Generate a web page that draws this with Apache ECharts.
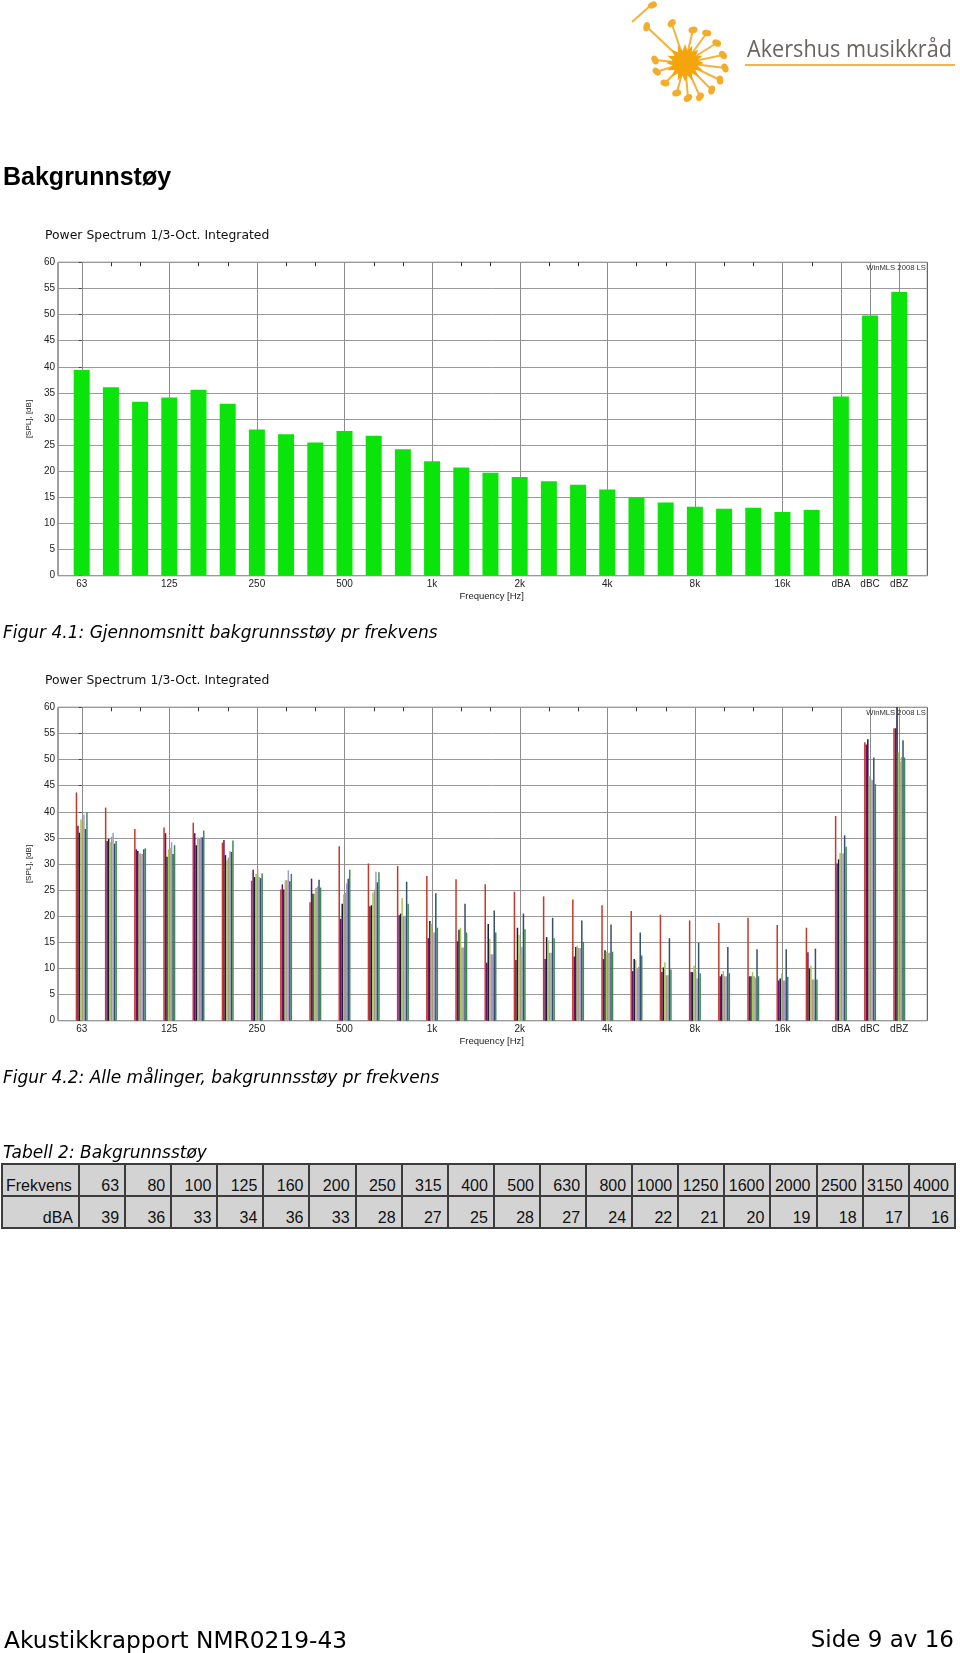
<!DOCTYPE html>
<html>
<head>
<meta charset="utf-8">
<script src="https://cdn.jsdelivr.net/npm/echarts@6/dist/echarts.min.js"></script>
<style>
html,body{margin:0;padding:0;background:#fff;}
body{width:960px;height:1653px;position:relative;overflow:hidden;}
#chart{position:absolute;left:0;top:0;width:960px;height:1653px;}
.t{position:absolute;white-space:nowrap;line-height:1;color:#000;z-index:2;}
#heading{left:3px;top:162px;font:bold 25px 'Liberation Sans',Arial,sans-serif;}
.cap{font:oblique 17px 'DejaVu Sans',Verdana,sans-serif;left:3px;}
#cap1{top:622px;}
#cap2{top:1067px;}
#tcap{top:1142px;}
#foot1{left:4px;top:1626px;font:23.3px 'DejaVu Sans',Verdana,sans-serif;}
#foot2{right:6px;top:1626px;font:23px 'DejaVu Sans',Verdana,sans-serif;}
#tbl{position:absolute;left:1px;top:1163px;border-collapse:collapse;table-layout:fixed;font:16px 'Liberation Sans',Arial,sans-serif;background:#d3d3d3;z-index:1;}
#tbl td{border:2px solid #3c3c3c;padding:0 5px 1px 3px;text-align:right;vertical-align:bottom;height:29px;line-height:16px;color:#111;overflow:hidden;white-space:nowrap;}
#tbl td.first{text-align:left;}
#tbl tr.r2 td.first{text-align:right;}
#logo{position:absolute;left:0;top:0;z-index:2;}
</style>
</head>
<body>
<div id="chart"></div>

<svg id="logo" width="960" height="110" viewBox="0 0 960 110">
  <g stroke="#f4b23a" stroke-width="2" fill="none" id="rays"></g>
  <g fill="#f4ad2a" id="heads"></g>
  <polygon id="core" fill="#f6a40c"></polygon>
  <text x="747" y="57" font-family="'Open Sans','DejaVu Sans',sans-serif" font-size="24" fill="#6a6461" textLength="205" lengthAdjust="spacingAndGlyphs">Akershus musikkråd</text>
  <line x1="745" y1="65" x2="955" y2="65" stroke="#f0b843" stroke-width="2"/>
</svg>

<div id="heading" class="t">Bakgrunnstøy</div>
<div id="cap1" class="t cap">Figur 4.1: Gjennomsnitt bakgrunnsstøy pr frekvens</div>
<div id="cap2" class="t cap">Figur 4.2: Alle målinger, bakgrunnsstøy pr frekvens</div>
<table id="tbl"><colgroup id="cols"></colgroup><tr id="row1"></tr><tr id="row2" class="r2"></tr></table>
<div id="tcap" class="t cap">Tabell 2: Bakgrunnsstøy</div>
<div id="foot1" class="t">Akustikkrapport NMR0219-43</div>
<div id="foot2" class="t">Side 9 av 16</div>

<script>
// ---------------- data ----------------
const categories = ['63','80','100','125','160','200','250','315','400','500','630','800','1k','1.25k','1.6k','2k','2.5k','3.15k','4k','5k','6.3k','8k','10k','12.5k','16k','20k','dBA','dBC','dBZ'];
const axisLabels = ['63','','','125','','','250','','','500','','','1k','','','2k','','','4k','','','8k','','','16k','','dBA','dBC','dBZ'];
const gridLineIdx = [0,3,6,9,12,15,18,21,24,26,27,28];
const yTicks = [0,5,10,15,20,25,30,35,40,45,50,55,60];

const average = [39.4,36.1,33.3,34.1,35.6,32.9,28.0,27.1,25.5,27.7,26.8,24.2,21.9,20.7,19.7,18.9,18.1,17.4,16.5,15.0,14.0,13.2,12.8,13.0,12.2,12.6,34.3,49.8,54.3];

const run1 = [43.7,40.8,36.7,37.0,37.9,34.1,26.8,25.1,22.7,33.4,30.1,29.6,27.7,27.1,26.1,24.7,23.8,23.2,22.1,21.0,20.3,19.2,18.7,19.7,18.3,17.8,39.2,53.3,56.0];
const run2 = [37.3,34.4,32.8,35.9,35.9,34.6,28.9,26.1,27.2,19.5,21.9,20.2,15.8,15.2,11.1,11.6,11.8,12.3,11.8,9.5,9.3,9.3,8.5,8.5,7.7,13.1,30.1,52.9,56.0];
const run3 = [36.0,34.8,32.5,31.4,33.6,31.7,27.5,25.1,24.3,22.4,22.1,20.5,19.1,17.4,18.5,17.8,16.0,14.1,13.5,11.8,10.2,9.3,8.9,8.5,8.1,10.0,30.9,53.9,61.0];
const run4 = [38.5,34.2,32.0,32.8,35.1,30.7,28.1,26.9,24.3,24.2,24.5,23.5,18.6,17.8,15.7,16.4,15.4,14.4,13.2,11.6,11.2,10.5,9.5,9.3,9.0,10.5,32.1,46.8,51.4];
const run5 = [38.5,35.2,32.0,33.1,34.8,31.2,29.0,26.9,25.4,24.5,25.1,19.9,16.9,14.0,12.7,12.7,13.0,13.9,13.0,10.1,8.7,9.5,8.5,8.5,7.7,7.9,32.0,46.2,49.6];
const run6 = [39.5,36.0,31.9,34.2,35.1,32.5,27.5,28.8,25.7,26.3,28.5,20.1,16.9,14.0,12.7,14.1,13.0,13.9,13.0,10.3,8.7,8.1,8.5,8.2,7.7,7.9,32.0,46.1,50.5];
const run7 = [36.7,33.9,32.8,31.9,35.1,32.3,27.3,26.7,27.0,27.2,26.5,26.6,24.4,22.4,21.1,20.5,19.7,19.2,18.4,16.9,15.8,14.9,14.1,13.7,13.7,13.8,35.5,50.4,53.7];
const run8 = [39.9,34.4,33.0,33.6,36.4,34.5,28.2,28.1,25.5,28.9,28.4,22.4,17.8,16.9,16.9,17.5,15.8,15.1,13.2,12.5,9.8,9.1,9.1,8.5,8.4,7.9,33.3,45.3,50.4];
const runs = [run1,run2,run3,run4,run5,run6,run7,run8];
const runColors = ['#c8382a','#6c106c','#1c1a3a','#9ccc50','#a89878','#a898d0','#34506c','#3c8c50'];

const tableFreq = [63,80,100,125,160,200,250,315,400,500,630,800,1000,1250,1600,2000,2500,3150,4000];
const tableDBA = [39,36,33,34,36,33,28,27,25,28,27,24,22,21,20,19,18,17,16];

// ---------------- table ----------------
(function(){
  const cols = document.getElementById('cols');
  let h = '<col style="width:77px">';
  tableFreq.forEach(()=>{ h += '<col style="width:46.1px">'; });
  cols.innerHTML = h;
  let r1 = '<td class="first">Frekvens</td>';
  tableFreq.forEach(v=>{ r1 += '<td>'+v+'</td>'; });
  document.getElementById('row1').innerHTML = r1;
  let r2 = '<td class="first">dBA</td>';
  tableDBA.forEach(v=>{ r2 += '<td>'+v+'</td>'; });
  document.getElementById('row2').innerHTML = r2;
})();

// ---------------- logo ----------------
(function(){
  const cx = 685, cy = 63;
  const heads = [[646.7,26.7],[671.7,23.3],[693,30],[706.7,33],[716.7,43],[723,55],[725,68],[720,80],[711.7,90],[700,96.7],[688,98],[676.7,93],[665,83],[656.7,71.7],[655,60]];
  let rays = '', hd = '';
  heads.forEach(p=>{
    rays += '<line x1="'+cx+'" y1="'+cy+'" x2="'+p[0]+'" y2="'+p[1]+'"/>';
    const ang = Math.atan2(p[1]-cy,p[0]-cx)*180/Math.PI;
    hd += '<ellipse cx="'+p[0]+'" cy="'+p[1]+'" rx="4.6" ry="3.3" transform="rotate('+(ang+60)+' '+p[0]+' '+p[1]+')"/>';
  });
  rays += '<line x1="632" y1="22" x2="650" y2="6"/>';
  hd += '<ellipse cx="652.5" cy="5" rx="4.6" ry="3.3" transform="rotate(-20 652.5 5)"/>';
  document.getElementById('rays').innerHTML = rays;
  document.getElementById('heads').innerHTML = hd;
  let pts = [];
  for (let k=0;k<32;k++){
    const r = (k%2===0)?19:12.5;
    const a = k*Math.PI/16;
    pts.push((cx+r*Math.cos(a)).toFixed(1)+','+(cy+r*Math.sin(a)).toFixed(1));
  }
  document.getElementById('core').setAttribute('points', pts.join(' '));
})();

// ---------------- charts ----------------
const chart = echarts.init(document.getElementById('chart'), null, {renderer:'canvas'});
const FONT = "'Liberation Sans', Arial, sans-serif";
const X_MIN = -0.8116, X_MAX = 28.96;
const plotLeft = 58, plotWidth = 869.3, plotH = 313.4;
const tops = [262.3, 707.3];

function xAxisDef(gi){
  return {type:'value', gridIndex:gi, min:X_MIN, max:X_MAX, show:false, splitLine:{show:false}};
}
function yAxisDef(gi){
  return {type:'value', gridIndex:gi, min:0, max:60, interval:5,
    axisLine:{show:false},
    axisTick:{show:true, length:3, lineStyle:{color:'#444'}},
    axisLabel:{fontSize:10, color:'#222', margin:3, fontFamily:FONT},
    splitLine:{show:true, lineStyle:{color:'#9a9a9a', width:1}},
    name:'[SPL], [dB]', nameLocation:'middle', nameGap:15, nameRotate:90,
    nameTextStyle:{fontSize:8, color:'#222', fontFamily:FONT}
  };
}
function decoSeries(gi){
  return {
    type:'custom', xAxisIndex:gi, yAxisIndex:gi, z:1, silent:true,
    data: categories.map((c,i)=>[i,0]),
    encode:{x:0,y:1},
    renderItem: function(params, api){
      const i = api.value(0);
      const p0 = api.coord([i,0]);
      const p1 = api.coord([i,60]);
      const x = Math.round(p0[0]) + 0.5;
      const children = [];
      if (gridLineIdx.indexOf(i) >= 0){
        children.push({type:'line', shape:{x1:x,y1:p1[1],x2:x,y2:p0[1]}, style:{stroke:'#8c8c8c', lineWidth:1}});
      } else {
        children.push({type:'line', shape:{x1:x,y1:p1[1],x2:x,y2:p1[1]+4}, style:{stroke:'#333', lineWidth:1}});
      }
      if (axisLabels[i]){
        children.push({type:'text', x:p0[0], y:p0[1]+8.5, style:{text:axisLabels[i], fill:'#222', font:'10px '+FONT, align:'center', verticalAlign:'middle', textAlign:'center', textVerticalAlign:'middle'}});
      }
      return {type:'group', children:children};
    }
  };
}

const series = [decoSeries(0), decoSeries(1)];
series.push({
  type:'bar', xAxisIndex:0, yAxisIndex:0, z:3, barWidth:16,
  data: average.map((v,i)=>[i,v]),
  itemStyle:{color:'#0ae40a'}
});
runs.forEach((r,k)=>{
  series.push({
    type:'bar', xAxisIndex:1, yAxisIndex:1, z:3, barWidth:1.5, barGap:'0%',
    data: r.map((v,i)=>[i,v]),
    itemStyle:{color:runColors[k]}
  });
});

const graphics = [];
tops.forEach(t=>{
  graphics.push({type:'text', x:45, y:t-26.3, style:{text:'Power Spectrum 1/3-Oct. Integrated', fill:'#111', font:"12.4px 'DejaVu Sans', Verdana, sans-serif", textAlign:'left', textVerticalAlign:'middle', align:'left', verticalAlign:'middle'}});
  graphics.push({type:'text', x:491.7, y:t+333.7, style:{text:'Frequency [Hz]', fill:'#222', font:'9.5px '+FONT, textAlign:'center', textVerticalAlign:'middle', align:'center', verticalAlign:'middle'}});
  graphics.push({type:'text', x:926, y:t+5.2, z:10, style:{text:'WinMLS 2008 LS', fill:'#333', font:'7.7px '+FONT, textAlign:'right', textVerticalAlign:'middle', align:'right', verticalAlign:'middle'}});
});

chart.setOption({
  animation:false,
  textStyle:{fontFamily:FONT},
  grid: tops.map(t=>({left:plotLeft, top:t, width:plotWidth, height:plotH, show:true, borderColor:'#404040', borderWidth:1, backgroundColor:'#fff', containLabel:false})),
  xAxis:[xAxisDef(0), xAxisDef(1)],
  yAxis:[yAxisDef(0), yAxisDef(1)],
  graphic: graphics,
  series: series
});
</script>
</body>
</html>
